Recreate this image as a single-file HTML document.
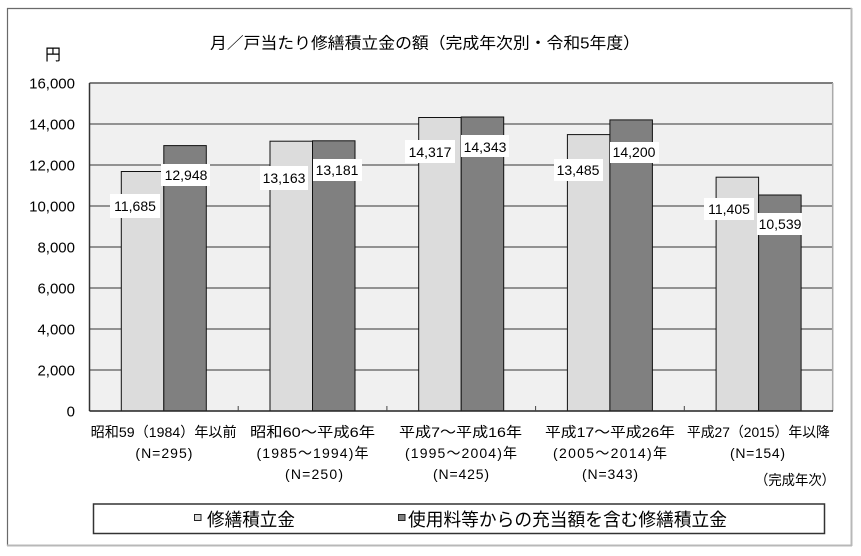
<!DOCTYPE html>
<html>
<head>
<meta charset="utf-8">
<style>
html,body{margin:0;padding:0;background:#fff;}
svg{display:block;}
text{font-family:"Liberation Sans","Noto Sans CJK JP",sans-serif;fill:#000;}
</style>
</head>
<body>
<svg width="861" height="556" viewBox="0 0 861 556" xmlns="http://www.w3.org/2000/svg">
  <!-- outer frame -->
  <rect x="0" y="0" width="861" height="556" fill="#fff"/>
  <line x1="7.5" y1="8" x2="7.5" y2="546" stroke="#6a6a6a" stroke-width="1.2"/>
  <line x1="7" y1="8.5" x2="852" y2="8.5" stroke="#6a6a6a" stroke-width="1.2"/>
  <line x1="851.5" y1="8" x2="851.5" y2="546" stroke="#b8b8b8" stroke-width="2"/>
  <line x1="7" y1="545.5" x2="852" y2="545.5" stroke="#b8b8b8" stroke-width="2"/>

  <!-- title -->
  <text x="425" y="48.5" font-size="16" text-anchor="middle" textLength="430" lengthAdjust="spacingAndGlyphs">月／戸当たり修繕積立金の額（完成年次別・令和5年度）</text>
  <text x="53" y="60" font-size="16" text-anchor="middle">円</text>

  <!-- plot area -->
  <rect x="89.5" y="83" width="743.5" height="328" fill="#f0f0f0"/>
  <g stroke="#5a5a5a" stroke-width="1.2">
    <line x1="89.5" y1="124" x2="833" y2="124"/>
    <line x1="89.5" y1="165" x2="833" y2="165"/>
    <line x1="89.5" y1="206" x2="833" y2="206"/>
    <line x1="89.5" y1="247" x2="833" y2="247"/>
    <line x1="89.5" y1="288" x2="833" y2="288"/>
    <line x1="89.5" y1="329" x2="833" y2="329"/>
    <line x1="89.5" y1="370" x2="833" y2="370"/>
  </g>
  <line x1="89.5" y1="83" x2="833" y2="83" stroke="#555" stroke-width="1.5"/>
  <line x1="832.7" y1="83" x2="832.7" y2="411" stroke="#aaa" stroke-width="1.5"/>
  <line x1="89.5" y1="83" x2="89.5" y2="411" stroke="#333" stroke-width="1.5"/>

  <!-- bars -->
  <g stroke="#111" stroke-width="1">
    <rect x="121.3" y="171.5" width="42.5" height="239.5" fill="#dcdcdc"/>
    <rect x="163.8" y="145.6" width="42.5" height="265.4" fill="#808080"/>
    <rect x="270.0" y="141.2" width="42.5" height="269.8" fill="#dcdcdc"/>
    <rect x="312.5" y="140.8" width="42.5" height="270.2" fill="#808080"/>
    <rect x="418.7" y="117.5" width="42.5" height="293.5" fill="#dcdcdc"/>
    <rect x="461.2" y="117.0" width="42.5" height="294.0" fill="#808080"/>
    <rect x="567.4" y="134.6" width="42.5" height="276.4" fill="#dcdcdc"/>
    <rect x="609.9" y="119.9" width="42.5" height="291.1" fill="#808080"/>
    <rect x="716.1" y="177.2" width="42.5" height="233.8" fill="#dcdcdc"/>
    <rect x="758.6" y="195.0" width="42.5" height="216.0" fill="#808080"/>
  </g>

  <!-- x axis -->
  <line x1="89.5" y1="411" x2="833" y2="411" stroke="#222" stroke-width="1.5"/>
  <g stroke="#444" stroke-width="1">
    <line x1="238.2" y1="406" x2="238.2" y2="411"/>
    <line x1="386.9" y1="406" x2="386.9" y2="411"/>
    <line x1="535.6" y1="406" x2="535.6" y2="411"/>
    <line x1="684.3" y1="406" x2="684.3" y2="411"/>
  </g>

  <!-- data labels -->
  <g fill="#fff">
    <rect x="110" y="194" width="50" height="24"/>
    <rect x="161" y="164" width="49" height="22"/>
    <rect x="260" y="166" width="48" height="24"/>
    <rect x="313" y="159" width="49" height="22"/>
    <rect x="405" y="140" width="50" height="23"/>
    <rect x="461" y="135" width="48" height="22"/>
    <rect x="554" y="159" width="49" height="22"/>
    <rect x="610" y="142" width="49" height="21"/>
    <rect x="704" y="198" width="50" height="22"/>
    <rect x="757" y="213" width="45" height="22"/>
  </g>
  <g font-size="14" text-anchor="middle">
    <text x="135" y="211">11,685</text>
    <text x="186" y="180">12,948</text>
    <text x="284" y="183">13,163</text>
    <text x="337" y="175">13,181</text>
    <text x="430" y="157">14,317</text>
    <text x="485" y="152">14,343</text>
    <text x="578" y="175">13,485</text>
    <text x="634" y="157">14,200</text>
    <text x="729" y="214">11,405</text>
    <text x="780" y="229">10,539</text>
  </g>

  <!-- y axis labels -->
  <g font-size="15" text-anchor="end">
    <text x="75" y="88.5">16,000</text>
    <text x="75" y="129.5">14,000</text>
    <text x="75" y="170.5">12,000</text>
    <text x="75" y="211.5">10,000</text>
    <text x="75" y="252.5">8,000</text>
    <text x="75" y="293.5">6,000</text>
    <text x="75" y="334.5">4,000</text>
    <text x="75" y="375.5">2,000</text>
    <text x="75" y="416.5">0</text>
  </g>

  <!-- category labels -->
  <g font-size="14" text-anchor="middle">
    <text x="163.7" y="437" textLength="146" lengthAdjust="spacingAndGlyphs">昭和59（1984）年以前</text>
    <text x="163.9" y="458" textLength="57" lengthAdjust="spacing">(N=295)</text>

    <text x="312.5" y="437" textLength="125" lengthAdjust="spacingAndGlyphs">昭和60～平成6年</text>
    <text x="312.5" y="458" textLength="112" lengthAdjust="spacing">(1985～1994)年</text>
    <text x="314" y="479" textLength="58" lengthAdjust="spacing">(N=250)</text>

    <text x="460.5" y="437" textLength="123" lengthAdjust="spacingAndGlyphs">平成7～平成16年</text>
    <text x="461" y="458" textLength="112" lengthAdjust="spacing">(1995～2004)年</text>
    <text x="461" y="479" textLength="56" lengthAdjust="spacing">(N=425)</text>

    <text x="610" y="437" textLength="130" lengthAdjust="spacingAndGlyphs">平成17～平成26年</text>
    <text x="610" y="458" textLength="114" lengthAdjust="spacing">(2005～2014)年</text>
    <text x="610" y="479" textLength="56" lengthAdjust="spacing">(N=343)</text>

    <text x="758.4" y="437" textLength="143" lengthAdjust="spacingAndGlyphs">平成27（2015）年以降</text>
    <text x="757.5" y="458" textLength="55" lengthAdjust="spacing">(N=154)</text>

    <text x="795" y="485" textLength="80" lengthAdjust="spacingAndGlyphs">（完成年次）</text>
  </g>

  <!-- legend -->
  <rect x="93.5" y="504" width="731" height="29.5" fill="#fff" stroke="#333" stroke-width="1.5"/>
  <rect x="194.5" y="514.5" width="6.5" height="6" fill="#dcdcdc" stroke="#222" stroke-width="1"/>
  <text x="207" y="526" font-size="18" textLength="88" lengthAdjust="spacingAndGlyphs">修繕積立金</text>
  <rect x="398.5" y="514.5" width="6.5" height="6" fill="#808080" stroke="#222" stroke-width="1"/>
  <text x="408" y="526" font-size="18" textLength="319" lengthAdjust="spacingAndGlyphs">使用料等からの充当額を含む修繕積立金</text>
</svg>
</body>
</html>
